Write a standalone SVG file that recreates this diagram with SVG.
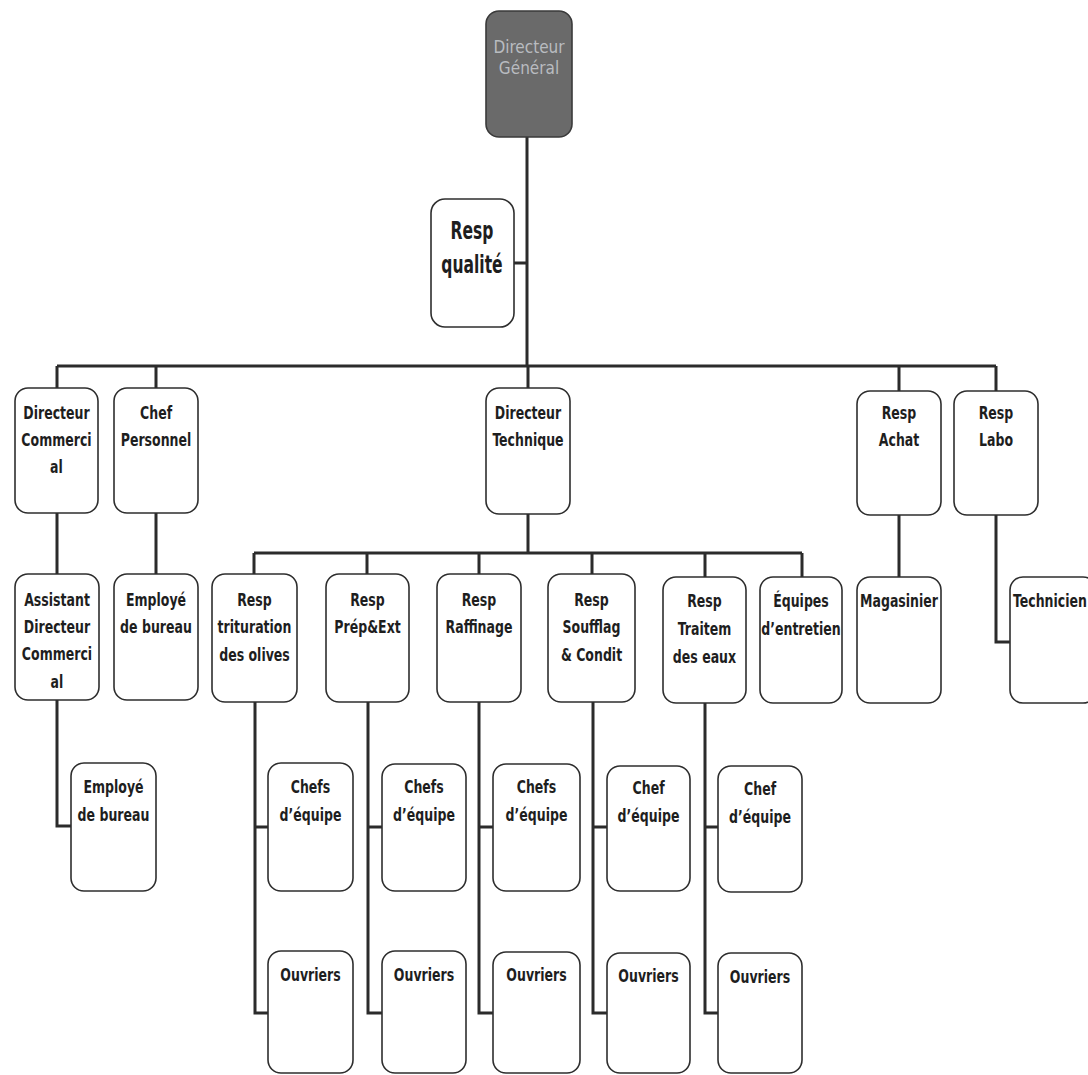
<svg xmlns="http://www.w3.org/2000/svg" width="1088" height="1075" viewBox="0 0 1088 1075">
<style>
.box{fill:#fff;stroke:#2e2e2e;stroke-width:1.6}
.dg{fill:#6a6a6a;stroke:#3a3a3a;stroke-width:1.6}
.t{font-family:"DejaVu Sans Condensed","Liberation Sans",Arial,sans-serif;font-weight:bold;font-size:17px;fill:#1e1e1e;text-anchor:middle;transform-box:fill-box;transform-origin:center;transform:scaleX(0.82)}
.tg{font-family:"DejaVu Sans Condensed","Liberation Sans",Arial,sans-serif;font-size:17px;fill:#b9bcc0;text-anchor:middle}
.tb{font-family:"DejaVu Sans Condensed","Liberation Sans",Arial,sans-serif;font-weight:bold;font-size:24px;fill:#1e1e1e;text-anchor:middle;transform-box:fill-box;transform-origin:center;transform:scaleX(0.72)}
.c{fill:none;stroke:#2b2b2b;stroke-width:3}
</style>
<rect width="1088" height="1075" fill="#fff"/>
<g id="connectors">
<path class="c" d="M527 137V366M514 263H527M57 366H996M57 366V388M156 366V388M528 366V388M899 366V391M996 366V391"/>
<path class="c" d="M57 513V575M156 513V575M899 515V577M996 515V642H1010M528 514V553M254 553H802M254 553V575M367 553V575M479 553V575M592 553V575M705 553V577M802 553V577"/>
<path class="c" d="M57 700V826H71M255 702V1013H268M255 827H268M368 702V1013H382M368 827H382M479 702V1013H493M479 827H493M593 702V1013H607M593 827H607M705 703V1013H718M705 827H718"/>
</g>
<g id="n-dg"><rect class="dg" x="486" y="11" width="86" height="126" rx="13"/><text class="tg" x="529" y="53">Directeur</text><text class="tg" x="529" y="74">Général</text></g>
<g id="n-qualite"><rect class="box" x="431" y="199" width="83" height="128" rx="14"/><text class="tb" x="472" y="239">Resp</text><text class="tb" x="472" y="273">qualité</text></g>
<g id="n-dc"><rect class="box" x="15" y="388" width="83" height="125" rx="13"/><text class="t" x="56.5" y="419">Directeur</text><text class="t" x="56.5" y="446">Commerci</text><text class="t" x="56.5" y="473">al</text></g>
<g id="n-cp"><rect class="box" x="114" y="388" width="84" height="125" rx="13"/><text class="t" x="156" y="419">Chef</text><text class="t" x="156" y="446">Personnel</text></g>
<g id="n-dt"><rect class="box" x="486" y="388" width="84" height="126" rx="13"/><text class="t" x="528" y="419">Directeur</text><text class="t" x="528" y="446">Technique</text></g>
<g id="n-achat"><rect class="box" x="857" y="391" width="84" height="124" rx="13"/><text class="t" x="899" y="419">Resp</text><text class="t" x="899" y="446">Achat</text></g>
<g id="n-labo"><rect class="box" x="954" y="391" width="84" height="124" rx="13"/><text class="t" x="996" y="419">Resp</text><text class="t" x="996" y="446">Labo</text></g>
<g id="n-assist"><rect class="box" x="15" y="574" width="84" height="126" rx="13"/><text class="t" x="57" y="606">Assistant</text><text class="t" x="57" y="633">Directeur</text><text class="t" x="57" y="660">Commerci</text><text class="t" x="57" y="688">al</text></g>
<g id="n-emp1"><rect class="box" x="114" y="574" width="84" height="126" rx="13"/><text class="t" x="156" y="606">Employé</text><text class="t" x="156" y="633">de bureau</text></g>
<g id="n-trit"><rect class="box" x="212" y="574" width="85" height="128" rx="13"/><text class="t" x="254.5" y="606">Resp</text><text class="t" x="254.5" y="633">trituration</text><text class="t" x="254.5" y="661">des olives</text></g>
<g id="n-prep"><rect class="box" x="326" y="574" width="83" height="128" rx="13"/><text class="t" x="367.5" y="606">Resp</text><text class="t" x="367.5" y="633">Prép&amp;Ext</text></g>
<g id="n-raff"><rect class="box" x="437" y="574" width="84" height="128" rx="13"/><text class="t" x="479" y="606">Resp</text><text class="t" x="479" y="633">Raffinage</text></g>
<g id="n-souff"><rect class="box" x="548" y="574" width="87" height="128" rx="13"/><text class="t" x="591.5" y="606">Resp</text><text class="t" x="591.5" y="633">Soufflag</text><text class="t" x="591.5" y="661">&amp; Condit</text></g>
<g id="n-trait"><rect class="box" x="663" y="577" width="83" height="126" rx="13"/><text class="t" x="704.5" y="607">Resp</text><text class="t" x="704.5" y="635">Traitem</text><text class="t" x="704.5" y="663">des eaux</text></g>
<g id="n-equip"><rect class="box" x="760" y="577" width="82" height="126" rx="13"/><text class="t" x="801" y="607">Équipes</text><text class="t" x="801" y="635">d’entretien</text></g>
<g id="n-mag"><rect class="box" x="857" y="577" width="84" height="126" rx="13"/><text class="t" x="899" y="607">Magasinier</text></g>
<g id="n-tech"><rect class="box" x="1010" y="577" width="86" height="126" rx="13"/><text class="t" x="1050" y="607">Technicien</text></g>
<g id="n-emp2"><rect class="box" x="71" y="763" width="85" height="128" rx="13"/><text class="t" x="113.5" y="793">Employé</text><text class="t" x="113.5" y="821">de bureau</text></g>
<g id="n-chef1"><rect class="box" x="268" y="763" width="85" height="128" rx="13"/><text class="t" x="310.5" y="793">Chefs</text><text class="t" x="310.5" y="821">d’équipe</text></g>
<g id="n-chef2"><rect class="box" x="382" y="764" width="84" height="127" rx="13"/><text class="t" x="424" y="793">Chefs</text><text class="t" x="424" y="821">d’équipe</text></g>
<g id="n-chef3"><rect class="box" x="493" y="764" width="87" height="127" rx="13"/><text class="t" x="536.5" y="793">Chefs</text><text class="t" x="536.5" y="821">d’équipe</text></g>
<g id="n-chef4"><rect class="box" x="607" y="766" width="83" height="125" rx="13"/><text class="t" x="648.5" y="794">Chef</text><text class="t" x="648.5" y="822">d’équipe</text></g>
<g id="n-chef5"><rect class="box" x="718" y="766" width="84" height="126" rx="13"/><text class="t" x="760" y="795">Chef</text><text class="t" x="760" y="823">d’équipe</text></g>
<g id="n-ouv1"><rect class="box" x="268" y="951" width="85" height="122" rx="13"/><text class="t" x="310.5" y="981">Ouvriers</text></g>
<g id="n-ouv2"><rect class="box" x="382" y="951" width="84" height="122" rx="13"/><text class="t" x="424" y="981">Ouvriers</text></g>
<g id="n-ouv3"><rect class="box" x="493" y="952" width="87" height="121" rx="13"/><text class="t" x="536.5" y="981">Ouvriers</text></g>
<g id="n-ouv4"><rect class="box" x="607" y="953" width="83" height="120" rx="13"/><text class="t" x="648.5" y="982">Ouvriers</text></g>
<g id="n-ouv5"><rect class="box" x="718" y="953" width="84" height="120" rx="13"/><text class="t" x="760" y="983">Ouvriers</text></g>
</svg>
